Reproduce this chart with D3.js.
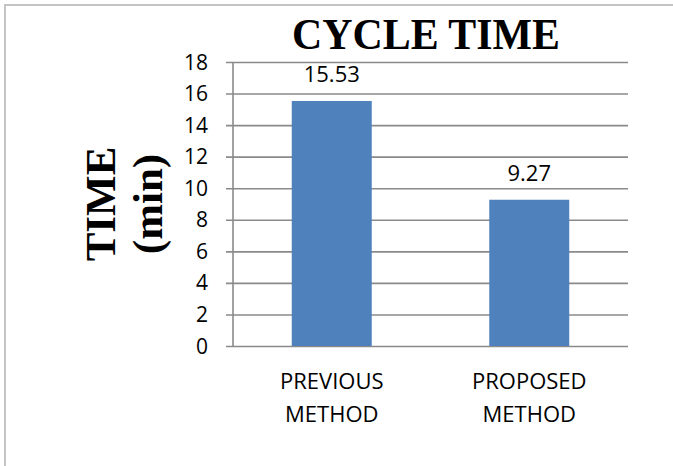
<!DOCTYPE html>
<html>
<head>
<meta charset="utf-8">
<script src="https://cdn.jsdelivr.net/npm/d3@7"></script>
<style>
  body { margin: 0; background: #fff; }
  svg { display: block; }
</style>
</head>
<body>
<svg id="chart" width="673" height="466"></svg>
<script>
var categories = [['PREVIOUS', 'METHOD'], ['PROPOSED', 'METHOD']];
var values = [15.53, 9.27];
var valueLabels = ['15.53', '9.27'];
var yTicks = [0, 2, 4, 6, 8, 10, 12, 14, 16, 18];
var chartTitle = 'CYCLE TIME';
var yTitle = ['TIME', '(min)'];

var drawChart = function () {
    var svg = d3.select('#chart');
    var left = 233, right = 628, top = 62, bottom = 346;

    // outer frame (only top and left edges show)
    svg.append('path')
        .attr('d', 'M5,466 V5 H673')
        .attr('fill', 'none')
        .attr('stroke', '#c4c4c4')
        .attr('stroke-width', 2);

    var xScale = d3.scaleBand()
        .domain(d3.range(values.length))
        .range([left, right])
        .paddingInner(0.595)
        .paddingOuter(0.2975);
    var yScale = d3.scaleLinear().domain([0, 18]).range([bottom, top]);

    // gridlines + ticks
    var yAxis = d3.axisLeft(yScale)
        .tickValues(yTicks)
        .tickSize(-(right - left))
        .tickFormat('');
    var g = svg.append('g').attr('transform', 'translate(' + left + ',0)').call(yAxis);
    g.select('.domain').remove();
    g.selectAll('.tick line')
        .attr('x1', -7)
        .attr('stroke', '#8a8a8a')
        .attr('stroke-width', 1.6);

    svg.append('line')
        .attr('x1', left).attr('x2', left)
        .attr('y1', top).attr('y2', bottom)
        .attr('stroke', '#8a8a8a')
        .attr('stroke-width', 1.6);

    svg.selectAll('.ylab')
        .data(yTicks)
        .enter()
        .append('text')
        .attr('x', 208)
        .attr('y', function (d) { return yScale(d) + 7.5; })
        .attr('text-anchor', 'end')
        .attr('font-family', 'Open Sans')
        .attr('font-size', 21)
        .text(function (d) { return d; });

    svg.selectAll('.bar')
        .data(values)
        .enter()
        .append('rect')
        .attr('x', function (d, i) { return xScale(i); })
        .attr('width', xScale.bandwidth())
        .attr('y', function (d) { return yScale(d); })
        .attr('height', function (d) { return bottom - yScale(d); })
        .attr('fill', '#4f81bd');

    svg.selectAll('.vlab')
        .data(values)
        .enter()
        .append('text')
        .attr('x', function (d, i) { return xScale(i) + xScale.bandwidth() / 2; })
        .attr('y', function (d) { return yScale(d) - 19; })
        .attr('text-anchor', 'middle')
        .attr('font-family', 'Open Sans')
        .attr('font-size', 22)
        .text(function (d, i) { return valueLabels[i]; });

    categories.forEach(function (lines, i) {
        lines.forEach(function (t, j) {
            svg.append('text')
                .attr('x', xScale(i) + xScale.bandwidth() / 2)
                .attr('y', 389 + j * 33)
                .attr('text-anchor', 'middle')
                .attr('font-family', 'Open Sans')
                .attr('font-size', 22)
                .text(t);
        });
    });

    svg.append('text')
        .attr('x', 292)
        .attr('y', 49)
        .attr('font-family', 'Liberation Serif')
        .attr('font-weight', 'bold')
        .attr('font-size', 45)
        .attr('textLength', 268)
        .attr('lengthAdjust', 'spacingAndGlyphs')
        .text(chartTitle);

    svg.append('text')
        .attr('transform', 'translate(115,204) rotate(-90)')
        .attr('text-anchor', 'middle')
        .attr('font-family', 'Liberation Serif')
        .attr('font-weight', 'bold')
        .attr('font-size', 43)
        .text(yTitle[0]);
    svg.append('text')
        .attr('transform', 'translate(162,204) rotate(-90)')
        .attr('text-anchor', 'middle')
        .attr('font-family', 'Liberation Serif')
        .attr('font-weight', 'bold')
        .attr('font-size', 43)
        .text(yTitle[1]);
};

window.onload = drawChart;
</script>
</body>
</html>
